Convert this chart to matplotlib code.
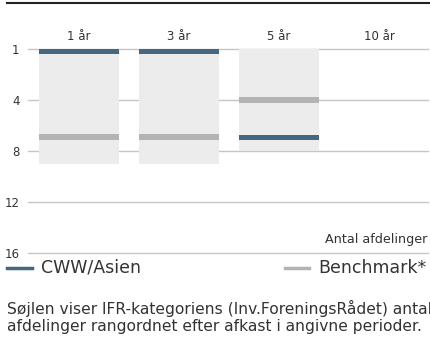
import numpy as np
import matplotlib.pyplot as plt

# Perioder og antal afdelinger i kategorien (grå søjle)
perioder = ["1 år", "3 år", "5 år", "10 år"]
antal_afdelinger = [9, 9, 8, 0]
# Placering aflæst på aksen (0 = top, svarer til nr. 1)
cww_placering = [0.15, 0.15, 6.95, np.nan]
benchmark_placering = [6.9, 6.9, 4.0, np.nan]
y_ticks = [0, 4, 8, 12, 16]
y_labels = ["1", "4", "8", "12", "16"]

plt.rcParams["font.family"] = ["DejaVu Sans"]

blaa = "#44687f"
graa = "#b3b3b3"
tekst = "#333333"

W, H = 431, 349
fig = plt.figure(figsize=(W / 100, H / 100), dpi=100)

# akse i pixel-koordinater
x0, x1, ytop, ybund = 28, 428, 49, 253
ax = fig.add_axes([x0 / W, (H - ybund) / H, (x1 - x0) / W, (ybund - ytop) / H])
ax.set_xlim(-0.51, 3.49)
ax.set_ylim(16, 0)

x = np.arange(len(perioder))
for t in y_ticks:
    ax.axhline(t, color="#c6c6c6", lw=1.0, zorder=1, clip_on=False)

ax.bar(x, antal_afdelinger, width=0.8, bottom=0, color="#ececec", zorder=2)

tyk = 0.44
ax.bar(x, tyk, width=0.8, bottom=np.array(benchmark_placering) - tyk / 2, color=graa, zorder=3)
ax.bar(x, tyk, width=0.8, bottom=np.array(cww_placering) - tyk / 2, color=blaa, zorder=4)

ax.set_yticks(y_ticks)
ax.set_yticklabels(y_labels, fontsize=8.5, color=tekst)
ax.tick_params(axis="y", length=0, pad=6)
ax.set_xticks([])
for s in ax.spines.values():
    s.set_visible(False)

for i, p in enumerate(perioder):
    ax.text(i, -0.95, p, ha="center", va="center", fontsize=8.5, color=tekst)

fig.text(427 / W, 1 - 240 / H, "Antal afdelinger", ha="right", va="center", fontsize=9.2, color=tekst)

# topstreg
fig.add_artist(plt.Line2D([7 / W, 430 / W], [1 - 3 / H, 1 - 3 / H], color="#222222", lw=1.5))

# legende
ly = 1 - 268 / H
fig.add_artist(plt.Line2D([7 / W, 32 / W], [ly, ly], color=blaa, lw=2.5))
fig.text(41 / W, ly, "CWW/Asien", ha="left", va="center", fontsize=12.5, color=tekst)
fig.add_artist(plt.Line2D([285 / W, 309 / W], [ly, ly], color=graa, lw=2.5))
fig.text(318 / W, ly, "Benchmark*", ha="left", va="center", fontsize=12.5, color=tekst)

fig.text(7 / W, 1 - 308 / H, "Søjlen viser IFR-kategoriens (Inv.ForeningsRådet) antal",
         ha="left", va="center", fontsize=11.2, color=tekst)
fig.text(7 / W, 1 - 326 / H, "afdelinger rangordnet efter afkast i angivne perioder.",
         ha="left", va="center", fontsize=11.2, color=tekst)

fig.savefig("out.png", dpi=100)
